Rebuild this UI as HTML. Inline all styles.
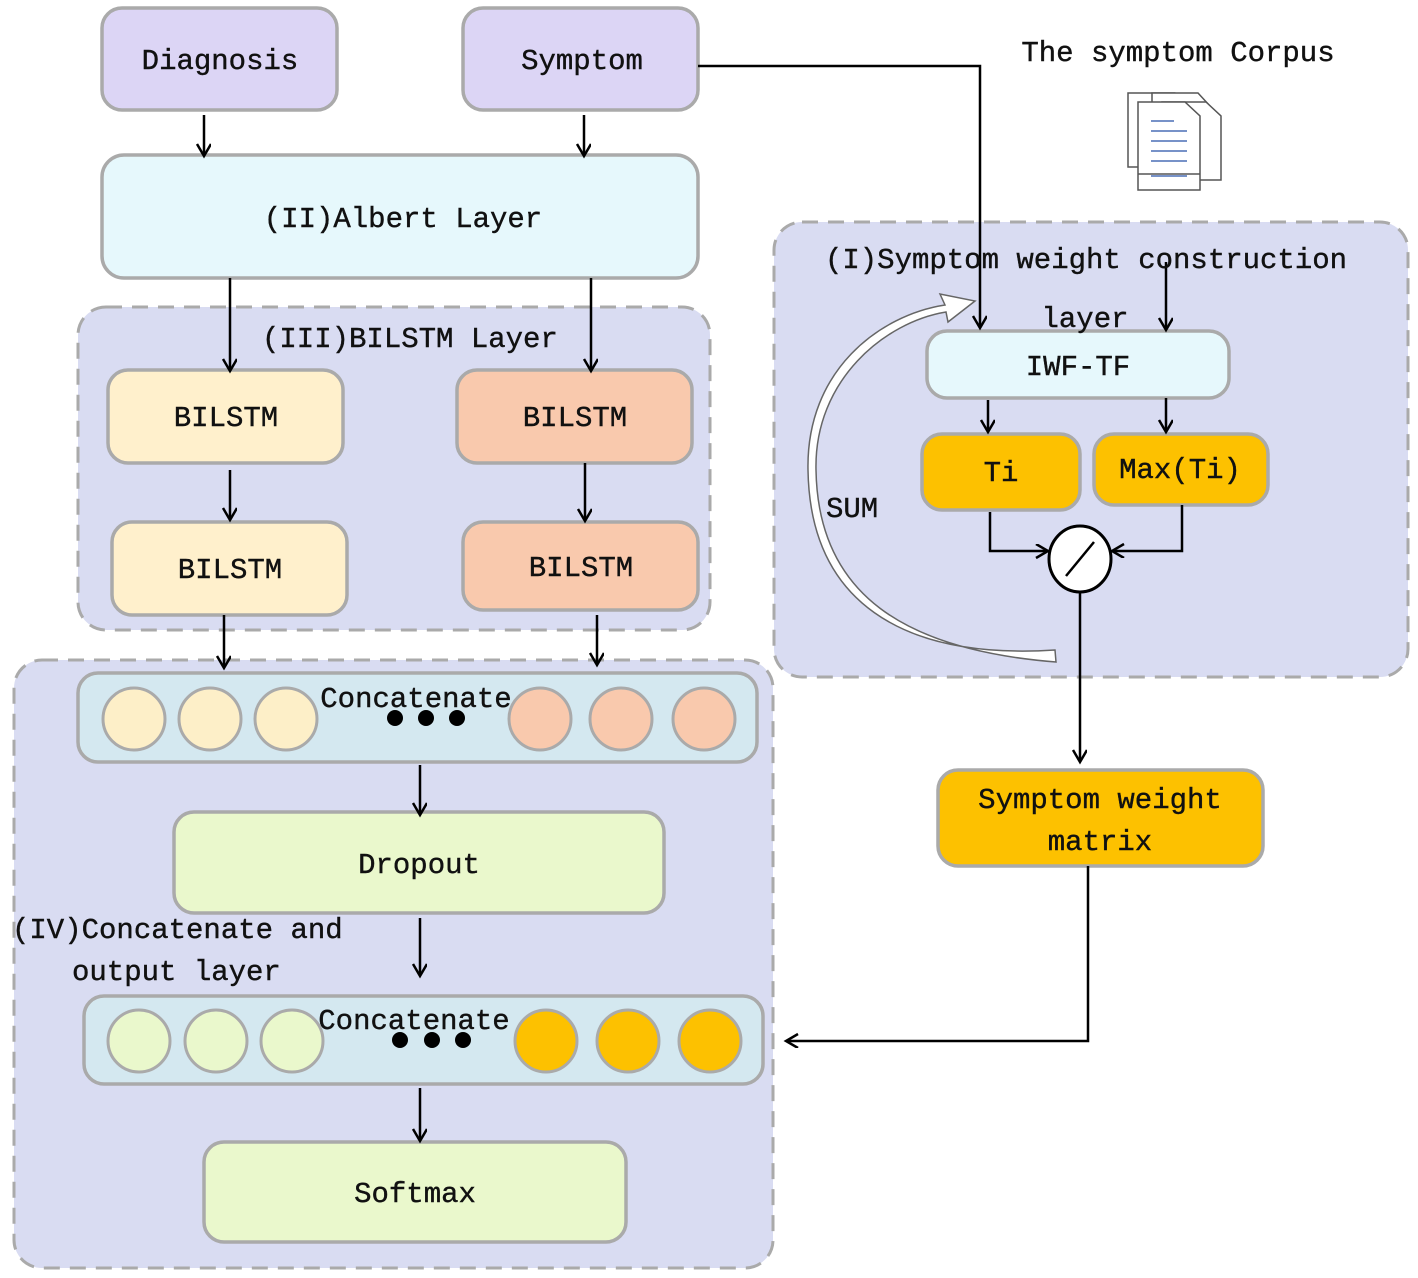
<!DOCTYPE html>
<html><head><meta charset="utf-8"><style>
html,body{margin:0;padding:0;background:#fff;}
svg{display:block;}
text{font-family:"Liberation Mono","Noto Sans CJK SC",monospace;font-size:29px;fill:#111;font-weight:500;stroke:#111;stroke-width:0.4px;}
</style></head><body>
<svg width="1418" height="1278" viewBox="0 0 1418 1278" xmlns="http://www.w3.org/2000/svg">
<defs>
<marker id="b" markerWidth="16" markerHeight="16" refX="13" refY="7" orient="auto" markerUnits="userSpaceOnUse">
<path d="M1,0 L13,7 L1,14" fill="none" stroke="#000" stroke-width="2.5"/></marker>
</defs>
<g stroke="#aaa" stroke-width="3" stroke-dasharray="16,10">
<rect x="78" y="307" width="632" height="323" rx="28" fill="#d9dcf2"/>
<rect x="14" y="660" width="759" height="608" rx="28" fill="#d9dcf2"/>
<rect x="774" y="222" width="634" height="455" rx="28" fill="#d9dcf2"/>
</g>
<g stroke="#aaa" stroke-width="3.5">
<rect x="102" y="8" width="235" height="102" rx="20" fill="#dcd5f5"/>
<rect x="463" y="8" width="235" height="102" rx="20" fill="#dcd5f5"/>
<rect x="102" y="155" width="596" height="123" rx="22" fill="#e6f8fc"/>
<rect x="108" y="370" width="235" height="93" rx="20" fill="#fff0cc"/>
<rect x="112" y="522" width="235" height="93" rx="20" fill="#fff0cc"/>
<rect x="457" y="370" width="235" height="93" rx="20" fill="#f9c9ad"/>
<rect x="463" y="522" width="235" height="88" rx="20" fill="#f9c9ad"/>
<rect x="78" y="673" width="679" height="89" rx="20" fill="#d4e8f0"/>
<rect x="174" y="812" width="490" height="101" rx="20" fill="#eaf8cc"/>
<rect x="84" y="996" width="679" height="88" rx="20" fill="#d4e8f0"/>
<rect x="204" y="1142" width="422" height="100" rx="20" fill="#eaf8cc"/>
<rect x="927" y="331" width="302" height="67" rx="20" fill="#e6f8fc"/>
<rect x="922" y="434" width="158" height="76" rx="20" fill="#fdc100"/>
<rect x="1094" y="434" width="174" height="71" rx="20" fill="#fdc100"/>
<rect x="938" y="770" width="325" height="96" rx="20" fill="#fdc100"/>
</g>
<g stroke="#aaa" stroke-width="3">
<circle cx="134" cy="719" r="31" fill="#fdefc8"/><circle cx="210" cy="719" r="31" fill="#fdefc8"/><circle cx="286" cy="719" r="31" fill="#fdefc8"/>
<circle cx="540" cy="719" r="31" fill="#f9c9ad"/><circle cx="621" cy="719" r="31" fill="#f9c9ad"/><circle cx="704" cy="719" r="31" fill="#f9c9ad"/>
<circle cx="139" cy="1041" r="31" fill="#eaf8cc"/><circle cx="216" cy="1041" r="31" fill="#eaf8cc"/><circle cx="292" cy="1041" r="31" fill="#eaf8cc"/>
<circle cx="546" cy="1041" r="31" fill="#fdc100"/><circle cx="628" cy="1041" r="31" fill="#fdc100"/><circle cx="710" cy="1041" r="31" fill="#fdc100"/>
</g>
<g fill="#000">
<circle cx="395" cy="718" r="8"/><circle cx="426" cy="718" r="8"/><circle cx="457" cy="718" r="8"/>
<circle cx="400" cy="1040" r="8"/><circle cx="432" cy="1040" r="8"/><circle cx="463" cy="1040" r="8"/>
</g>
<path d="M1055,650 C900,660 810,600 808,470 C806,370 880,315 945,305 L940,294 L975,301 L948,322 L946,312 C885,322 814,380 816,470 C818,595 905,650 1056,662 Z" fill="#fff" stroke="#666" stroke-width="1.5"/>
<g stroke="#000" stroke-width="2.5" fill="none" marker-end="url(#b)">
<line x1="204" y1="115" x2="204" y2="156"/>
<line x1="584" y1="115" x2="584" y2="156"/>
<line x1="230" y1="278" x2="230" y2="371"/>
<line x1="591" y1="278" x2="591" y2="371"/>
<line x1="230" y1="470" x2="230" y2="520"/>
<line x1="585" y1="463" x2="585" y2="521"/>
<line x1="224" y1="615" x2="224" y2="668"/>
<line x1="597" y1="615" x2="597" y2="665"/>
<line x1="420" y1="765" x2="420" y2="815"/>
<line x1="420" y1="918" x2="420" y2="976"/>
<line x1="420" y1="1088" x2="420" y2="1141"/>
<polyline points="698,66 980,66 980,328"/>
<line x1="1166" y1="262" x2="1166" y2="330"/>
<line x1="988" y1="400" x2="988" y2="432"/>
<line x1="1166" y1="398" x2="1166" y2="432"/>
<polyline points="990,512 990,551 1048,551"/>
<polyline points="1182,505 1182,551 1112,551"/>
<line x1="1080" y1="592" x2="1080" y2="762"/>
<polyline points="1088,866 1088,1041 786,1041"/>
</g>
<ellipse cx="1080" cy="559" rx="31" ry="33" fill="#fff" stroke="#000" stroke-width="3"/>
<line x1="1066" y1="576" x2="1094" y2="542" stroke="#000" stroke-width="2.5"/>
<g fill="#fff" stroke="#555" stroke-width="1.5">
<path d="M1128,93 H1175 L1187,106 V167 H1128 Z"/>
<path d="M1152,93 H1198 L1210,106 V167 H1152 Z"/>
<path d="M1162,102 H1206 L1221,116 V180 H1162 Z"/>
<path d="M1138,102 H1185 L1200,116 V190 H1138 Z"/>
</g>
<g stroke="#4a6fb5" stroke-width="1.5">
<line x1="1151" y1="121" x2="1174" y2="121"/><line x1="1151" y1="131" x2="1187" y2="131"/><line x1="1151" y1="141" x2="1187" y2="141"/><line x1="1151" y1="151" x2="1187" y2="151"/><line x1="1151" y1="161" x2="1187" y2="161"/><line x1="1151" y1="176" x2="1187" y2="176"/>
</g>
<line x1="1138" y1="174" x2="1200" y2="174" stroke="#555" stroke-width="1.5"/>
<g text-anchor="middle">
<text x="220" y="69">Diagnosis</text>
<text x="582" y="69">Symptom</text>
<text x="403" y="227">(II)Albert Layer</text>
<text x="226" y="426">BILSTM</text>
<text x="230" y="578">BILSTM</text>
<text x="575" y="426">BILSTM</text>
<text x="581" y="576">BILSTM</text>
<text x="416" y="707">Concatenate</text>
<text x="419" y="873">Dropout</text>
<text x="414" y="1029">Concatenate</text>
<text x="415" y="1202">Softmax</text>
<text x="1078" y="375">IWF-TF</text>
<text x="1001" y="481">Ti</text>
<text x="1180" y="478">Max(Ti)</text>
<text x="1100" y="808">Symptom weight</text>
<text x="1100" y="850">matrix</text>
<text x="1178" y="61">The symptom Corpus</text>
<text x="1086" y="268">(I)Symptom weight construction</text>
<text x="1085" y="327">layer</text>
</g>
<text x="12" y="938">(IV)Concatenate and</text>
<text x="72" y="980">output layer</text>
<text x="262" y="347">(III)BILSTM Layer</text>
<text x="826" y="517">SUM</text>
</svg>
</body></html>
